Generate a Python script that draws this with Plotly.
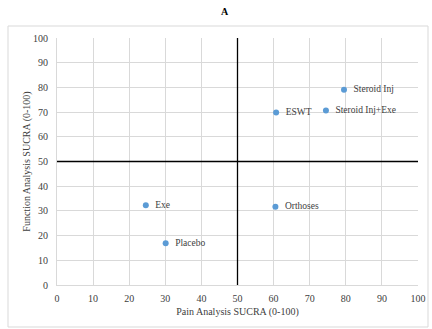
import plotly.graph_objects as go

names = ["Steroid Inj", "Steroid Inj+Exe", "ESWT", "Exe", "Placebo", "Orthoses"]
pain = [79.5, 74.5, 60.7, 24.6, 30.1, 60.5]
function = [79.0, 70.6, 69.8, 32.3, 16.9, 31.7]
ticks = list(range(0, 101, 10))

font = "Liberation Serif, Times New Roman, serif"

fig = go.Figure()
fig.add_trace(go.Scatter(
    x=pain, y=function, mode="markers+text",
    text=["  " + n for n in names], textposition="middle right",
    textfont=dict(family="Liberation Serif", size=9.5, color="#404040"),
    marker=dict(color="#5b9bd5", size=6),
    cliponaxis=False, showlegend=False,
))

fig.update_layout(
    width=432, height=329,
    margin=dict(l=57, r=14, t=38, b=44, autoexpand=False),
    paper_bgcolor="white", plot_bgcolor="white",
    font=dict(family=font, size=10, color="#404040"),
    title=dict(text="<b>A</b>", x=0.52, xanchor="center", y=0.965, yanchor="middle",
               font=dict(family=font, size=10, color="#000000")),
    xaxis=dict(range=[0, 100], tickvals=ticks, showgrid=True, gridcolor="#d9d9d9",
               gridwidth=1, zeroline=False, showline=True, linecolor="#d9d9d9",
               ticks="outside", ticklen=4, tickcolor="rgba(0,0,0,0)", automargin=False,
               title=dict(text="Pain Analysis SUCRA (0-100)", standoff=4,
                          font=dict(family=font, size=10, color="#404040"))),
    yaxis=dict(range=[0, 100], tickvals=ticks, showgrid=True, gridcolor="#d9d9d9",
               gridwidth=1, zeroline=False, showline=True, linecolor="#d9d9d9",
               ticks="outside", ticklen=6, tickcolor="rgba(0,0,0,0)", automargin=False,
               title=dict(text="Function Analysis SUCRA (0-100)", standoff=0,
                          font=dict(family=font, size=10, color="#404040"))),
    shapes=[
        dict(type="line", xref="x", yref="paper", x0=50, x1=50, y0=0, y1=1,
             line=dict(color="black", width=1.3)),
        dict(type="line", xref="paper", yref="y", x0=0, x1=1, y0=50, y1=50,
             line=dict(color="black", width=1.3)),
        dict(type="rect", xref="paper", yref="paper",
             x0=-49/361, x1=1 + 10/361, y0=-42/247, y1=1 + 12/247,
             line=dict(color="#d9d9d9", width=1), layer="below"),
    ],
)

fig.write_html("out.html")
